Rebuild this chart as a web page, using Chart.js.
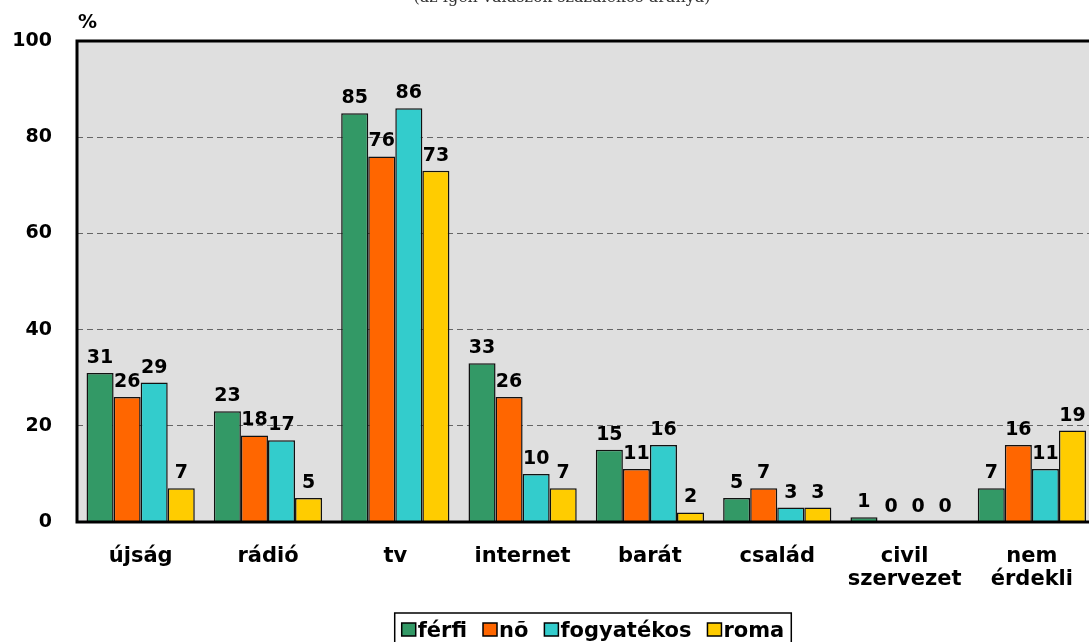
<!DOCTYPE html>
<html>
<head>
<meta charset="utf-8">
<script src="https://cdn.jsdelivr.net/npm/chart.js@4.4.1/dist/chart.umd.min.js"></script>
<style>
  html, body { margin: 0; padding: 0; background: #fff; overflow: hidden; }
  #wrap { width: 1096px; height: 660px; }
</style>
</head>
<body>
<div id="wrap"><canvas id="chart" width="1096" height="660"></canvas></div>
<script>
// categories + series
var categories = ['újság', 'rádió', 'tv', 'internet', 'barát', 'család', ['civil', 'szervezet'], ['nem', 'érdekli']];
var ferfi      = [31, 23, 85, 33, 15, 5, 1, 7];
var no         = [26, 18, 76, 26, 11, 7, 0, 16];
var fogyatekos = [29, 17, 86, 10, 16, 3, 0, 11];
var roma       = [7, 5, 73, 7, 2, 3, 0, 19];
var yTicks     = [0, 20, 40, 60, 80, 100];

var seriesNames  = ['férfi', 'nõ', 'fogyatékos', 'roma'];
var seriesColors = ['#339966', '#ff6600', '#33cccc', '#ffcc00'];
var subtitle = '(az igen válaszok százalékos aránya)';

var FONT = '"DejaVu Sans", Verdana, sans-serif';

// plot background + frame, value labels, title, "%" and boxed legend
var decor = {
  id: 'decor',
  beforeDraw: function(chart){
    var a = chart.chartArea, ctx = chart.ctx;
    ctx.save();
    ctx.fillStyle = '#dfdfdf';
    ctx.fillRect(a.left, a.top, a.right - a.left, a.bottom - a.top);
    ctx.restore();
  },
  afterDatasetsDraw: function(chart){
    var a = chart.chartArea, ctx = chart.ctx;
    ctx.save();
    ctx.strokeStyle = '#000';
    ctx.lineWidth = 3;
    ctx.strokeRect(a.left, a.top, a.right - a.left, a.bottom - a.top);

    // value labels above bars
    ctx.fillStyle = '#000';
    ctx.font = 'bold 19px ' + FONT;
    ctx.textAlign = 'center';
    ctx.textBaseline = 'alphabetic';
    chart.data.datasets.forEach(function(ds, i){
      chart.getDatasetMeta(i).data.forEach(function(bar, j){
        ctx.fillText(String(ds.data[j]), bar.x, bar.y - 10);
      });
    });

    // subtitle (cut by the top edge) and % label
    ctx.font = '16px "DejaVu Serif", "Liberation Serif", serif';
    ctx.fillStyle = '#333';
    ctx.fillText(subtitle, 562, 2);
    ctx.font = 'bold 19px ' + FONT;
    ctx.fillStyle = '#000';
    ctx.textAlign = 'left';
    ctx.fillText('%', 78, 28);

    // legend
    ctx.font = 'bold 21px ' + FONT;
    var sw = 14, gapText = 2, gapItem = 16;
    var widths = chart.data.datasets.map(function(ds){ return ctx.measureText(ds.label).width; });
    var total = widths.reduce(function(s, w){ return s + sw + gapText + w; }, 0) + gapItem * (widths.length - 1);
    var bx = 593 - total / 2, by = 613;
    ctx.lineWidth = 1.5;
    ctx.strokeStyle = '#000';
    ctx.strokeRect(bx - 7, by, total + 14, 40);
    var x = bx;
    chart.data.datasets.forEach(function(ds, i){
      ctx.fillStyle = ds.backgroundColor;
      ctx.fillRect(x, 623, sw, 13);
      ctx.lineWidth = 1.5;
      ctx.strokeRect(x, 623, sw, 13);
      ctx.fillStyle = '#000';
      ctx.fillText(ds.label, x + sw + gapText, 637);
      x += sw + gapText + widths[i] + gapItem;
    });
    ctx.restore();
  }
};

var seriesData = [ferfi, no, fogyatekos, roma];

new Chart(document.getElementById('chart').getContext('2d'), {
  type: 'bar',
  data: {
    labels: categories,
    datasets: seriesData.map(function(d, i){
      return {
        label: seriesNames[i],
        data: d,
        backgroundColor: seriesColors[i],
        borderColor: '#111',
        borderWidth: 1.5,
        categoryPercentage: 0.85,
        barPercentage: 1
      };
    })
  },
  options: {
    responsive: false,
    animation: false,
    layout: { padding: { top: 41, left: 0, right: 0, bottom: 48 } },
    plugins: { legend: { display: false }, tooltip: { enabled: false } },
    scales: {
      x: {
        grid: { display: false, drawTicks: false },
        border: { display: false },
        ticks: { color: '#000', font: { family: FONT, size: 21, weight: 'bold', lineHeight: 1.1 }, padding: 23, maxRotation: 0 },
        afterFit: function(s){ s.height = 90; }
      },
      y: {
        min: 0, max: 100,
        afterBuildTicks: function(s){ s.ticks = yTicks.map(function(v){ return { value: v }; }); },
        grid: {
          drawTicks: false,
          color: function(c){ return (c.tick && (c.tick.value === 0 || c.tick.value === 100)) ? 'rgba(0,0,0,0)' : '#666'; },
          lineWidth: 1
        },
        border: { display: false, dash: [6, 4] },
        ticks: { color: '#000', font: { family: FONT, size: 19, weight: 'bold' }, padding: 25 },
        afterFit: function(s){ s.width = 77; }
      }
    }
  },
  plugins: [decor]
});
</script>
</body>
</html>
